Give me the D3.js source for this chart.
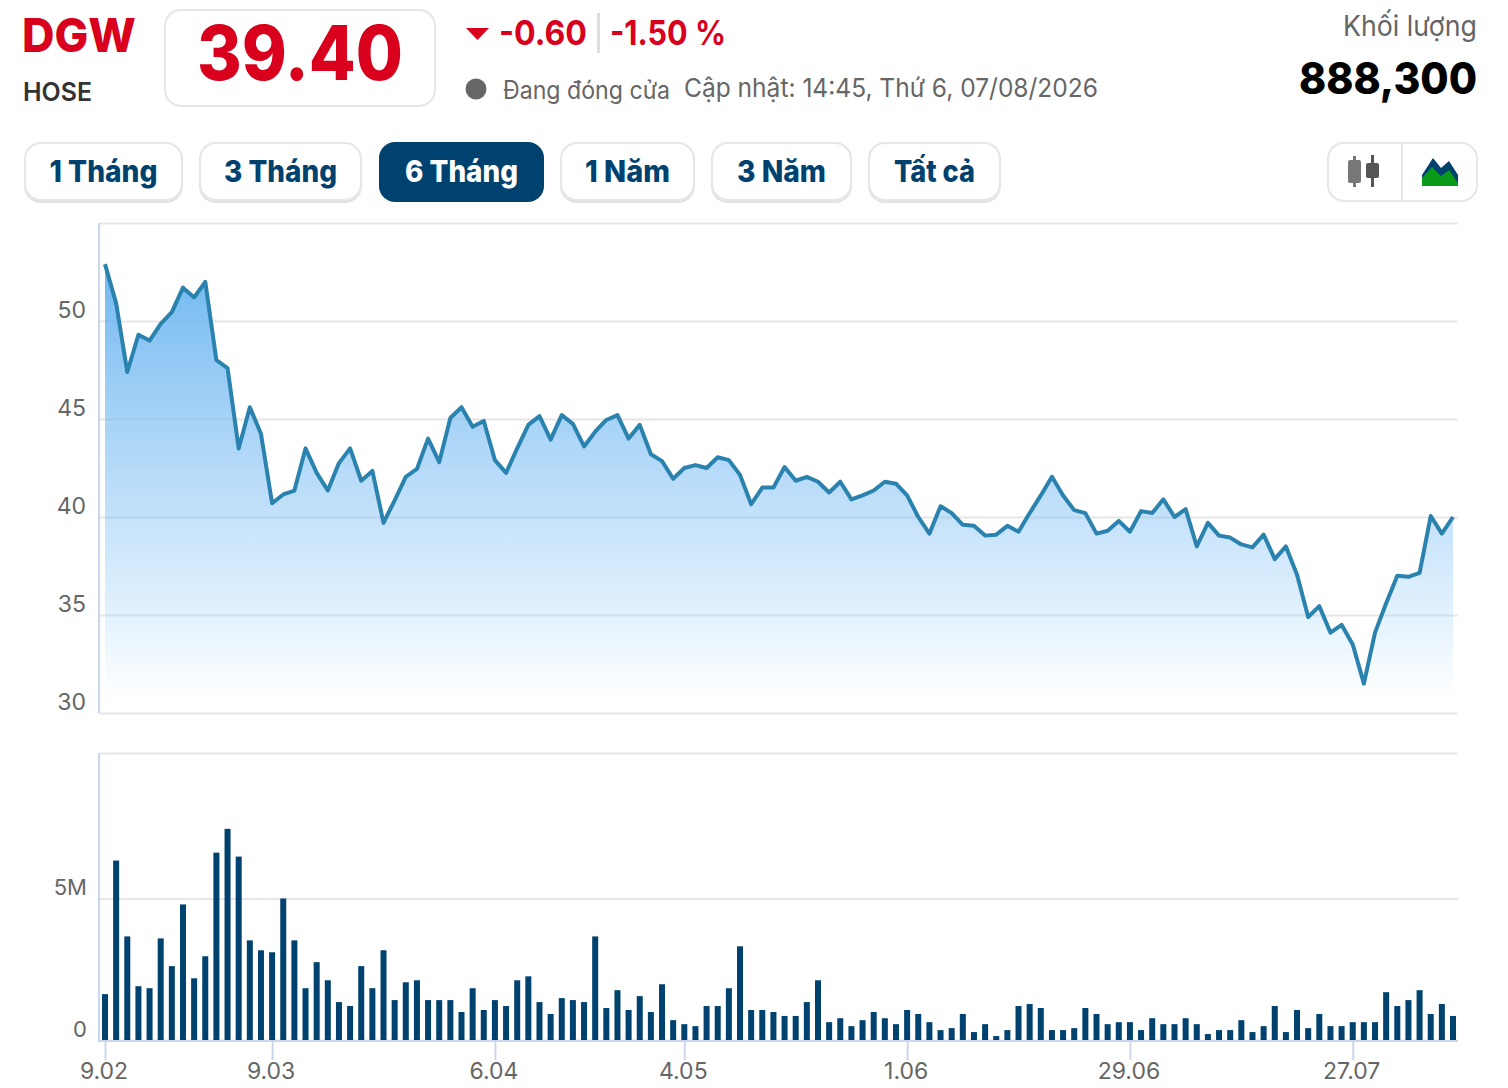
<!DOCTYPE html>
<html>
<head>
<meta charset="utf-8">
<script src="https://cdn.jsdelivr.net/npm/d3@7"></script>
<style>
  html, body { margin: 0; padding: 0; background: #fff; }
  svg { display: block; font-family: Inter, "Noto Sans", sans-serif; }
</style>
</head>
<body>
<div id="chart"></div>
<script>
// --- Data ---
const closePrices = [
  52.9, 50.9, 47.4, 49.3, 49.0, 49.85, 50.45, 51.7, 51.2, 52.0,
  48.0, 47.6, 43.5, 45.6, 44.25, 40.7, 41.15, 41.35, 43.5, 42.25,
  41.35, 42.75, 43.5, 41.85, 42.35, 39.7, 40.85, 42.05, 42.45, 44.0,
  42.8, 45.05, 45.6, 44.6, 44.9, 42.9, 42.25, 43.5, 44.7, 45.15,
  43.95, 45.2, 44.75, 43.6, 44.35, 44.95, 45.2, 44.0, 44.7, 43.2,
  42.85, 41.95, 42.5, 42.65, 42.5, 43.05, 42.9, 42.15, 40.65, 41.5,
  41.5, 42.55, 41.85, 42.05, 41.8, 41.25, 41.8, 40.9, 41.1, 41.35,
  41.8, 41.7, 41.1, 40.0, 39.15, 40.55, 40.2, 39.6, 39.55, 39.05,
  39.1, 39.55, 39.25, 40.2, 41.1, 42.05, 41.1, 40.35, 40.2, 39.15,
  39.3, 39.8, 39.25, 40.3, 40.2, 40.9, 40.0, 40.4, 38.5, 39.7,
  39.05, 38.95, 38.6, 38.45, 39.1, 37.85, 38.5, 37.05, 34.9, 35.45,
  34.1, 34.5, 33.5, 31.5, 34.1, 35.6, 37.0, 36.95, 37.15, 40.05,
  39.15, 40.0
];
// volume in millions of shares
const volumes = [
  1.62, 6.34, 3.66, 1.90, 1.83, 3.59, 2.61, 4.79, 2.18, 2.96,
  6.62, 7.46, 6.48, 3.52, 3.17, 3.10, 5.00, 3.52, 1.83, 2.75,
  2.11, 1.34, 1.20, 2.61, 1.83, 3.17, 1.41, 2.04, 2.11, 1.41,
  1.41, 1.41, 0.99, 1.83, 1.06, 1.41, 1.20, 2.11, 2.25, 1.34,
  0.92, 1.48, 1.41, 1.34, 3.66, 1.13, 1.76, 1.06, 1.55, 0.99,
  1.97, 0.70, 0.56, 0.49, 1.20, 1.20, 1.83, 3.31, 1.06, 1.06,
  0.99, 0.85, 0.85, 1.34, 2.11, 0.63, 0.77, 0.49, 0.70, 0.99,
  0.77, 0.56, 1.06, 0.92, 0.63, 0.35, 0.42, 0.92, 0.28, 0.56,
  0.14, 0.35, 1.20, 1.27, 1.13, 0.35, 0.35, 0.42, 1.13, 0.92,
  0.56, 0.63, 0.63, 0.35, 0.77, 0.56, 0.56, 0.77, 0.56, 0.21,
  0.35, 0.35, 0.70, 0.28, 0.49, 1.20, 0.28, 1.06, 0.42, 0.92,
  0.49, 0.49, 0.63, 0.63, 0.63, 1.69, 1.20, 1.41, 1.76, 0.92,
  1.27, 0.85
];
const dateIndexes = [0, 15, 35, 52, 72, 92, 112];
const dateLabels = ["9.02", "9.03", "6.04", "4.05", "1.06", "29.06", "27.07"];
const priceTicks = [30, 35, 40, 45, 50, 55];
const volumeTicks = [0, 5, 10.14];
const tabLabels = ["1 Tháng", "3 Tháng", "6 Tháng", "1 Năm", "3 Năm", "Tất cả"];
const activeTab = "6 Tháng";

const red = "#d8001c", navy = "#00426f", grey = "#666", border = "#e6e6e6", axisBlue = "#ccd6eb";

const svg = d3.select("#chart").append("svg")
  .attr("width", 1508)
  .attr("height", 1088);

// --- Scales ---
const plotLeft = 99, plotRight = 1458;
const x = d3.scaleLinear().domain([0, closePrices.length - 1]).range([105, 1453]);
const yPrice = d3.scaleLinear().domain([30, 55]).range([713, 223]);
const yVolume = d3.scaleLinear().domain([0, 10.14]).range([1040, 753]);

// --- Header ---
function label(x0, y0, str, size, weight, fill, width, anchor) {
  const t = svg.append("text")
    .attr("x", x0).attr("y", y0)
    .attr("font-size", size).attr("font-weight", weight)
    .attr("fill", fill)
    .attr("text-anchor", anchor || "start")
    .text(str);
  if (width) t.attr("textLength", width).attr("lengthAdjust", "spacingAndGlyphs");
  return t;
}

label(22, 52, "DGW", 47, 800, red, 114);
label(23, 101, "HOSE", 26, 600, "#333", 69);

svg.append("rect")
  .attr("x", 165).attr("y", 10).attr("width", 270).attr("height", 96).attr("rx", 16)
  .attr("fill", "#fff").attr("stroke", border).attr("stroke-width", 2);
label(197, 80, "39.40", 75, 800, red, 206);

svg.append("path").attr("d", "M466,28 L489,28 L477.5,40 Z").attr("fill", red);
label(499, 45, "-0.60", 34, 700, red, 88);
svg.append("rect").attr("x", 597).attr("y", 13).attr("width", 3).attr("height", 40).attr("fill", "#ddd");
label(610, 45, "-1.50 %", 34, 700, red, 116);

svg.append("circle").attr("cx", 476).attr("cy", 89).attr("r", 10.5).attr("fill", grey);
label(503, 99, "Đang đóng cửa", 25, 400, grey, 167);
label(684, 97, "Cập nhật: 14:45, Thứ 6, 07/08/2026", 26, 400, grey, 414);

label(1477, 36, "Khối lượng", 28, 400, grey, null, "end").attr("textLength", 134).attr("lengthAdjust", "spacingAndGlyphs");
label(1477, 94, "888,300", 44, 800, "#000", null, "end").attr("textLength", 178).attr("lengthAdjust", "spacingAndGlyphs");

// --- Range tabs ---
const tabEdges = [[25, 182], [200, 361], [379, 544], [561, 694], [712, 851], [869, 1000]];
const tabTextWidths = [108, 113, 113, 85, 89, 81];
tabLabels.forEach((d, i) => {
  const [a, b] = tabEdges[i];
  const on = d === activeTab;
  if (!on) {
    // heavier lower edge, like a soft shadow under each button
    svg.append("rect")
      .attr("x", a).attr("y", 146).attr("width", b - a).attr("height", 56).attr("rx", 16)
      .attr("fill", "#e2e2e2").attr("stroke", "#e2e2e2").attr("stroke-width", 2);
  }
  svg.append("rect")
    .attr("x", a).attr("y", on ? 142 : 143).attr("width", b - a).attr("height", on ? 60 : 57).attr("rx", 16)
    .attr("fill", on ? navy : "#fff")
    .attr("stroke", on ? "none" : border).attr("stroke-width", 2);
  label((a + b) / 2, 182, d, 30, 800, on ? "#fff" : navy, tabTextWidths[i], "middle");
});

// --- Chart type toggle ---
svg.append("rect")
  .attr("x", 1328).attr("y", 143).attr("width", 149).attr("height", 58).attr("rx", 16)
  .attr("fill", "#fff").attr("stroke", border).attr("stroke-width", 2);
svg.append("line").attr("x1", 1402).attr("x2", 1402).attr("y1", 143).attr("y2", 201)
  .attr("stroke", border).attr("stroke-width", 2);
svg.append("rect").attr("x", 1353).attr("y", 156).attr("width", 3).attr("height", 31).attr("fill", "#777");
svg.append("rect").attr("x", 1348).attr("y", 160).attr("width", 13).attr("height", 23).attr("rx", 2).attr("fill", "#777");
svg.append("rect").attr("x", 1371).attr("y", 155).attr("width", 3).attr("height", 32).attr("fill", "#555");
svg.append("rect").attr("x", 1366).attr("y", 163).attr("width", 13).attr("height", 15).attr("rx", 2).attr("fill", "#555");
svg.append("path").attr("d", "M1422,175 L1433,158 L1441,168 L1449,161 L1458,175 L1458,186 L1422,186 Z").attr("fill", navy);
svg.append("path").attr("d", "M1422,186 L1422,178 L1432,167 L1441,176 L1449,170 L1458,183 L1458,186 Z").attr("fill", "#0a9a1a");

// --- Axes and gridlines ---
function styleGrid(g) {
  g.select(".domain").remove();
  g.selectAll(".tick line").attr("stroke", border).attr("stroke-width", 2);
  g.selectAll(".tick text")
    .attr("font-size", 23).attr("font-family", "Inter, sans-serif")
    .attr("fill", grey).attr("dy", null);
}

const priceAxis = d3.axisLeft(yPrice)
  .tickValues(priceTicks)
  .tickSize(-(plotRight - plotLeft))
  .tickPadding(13)
  .tickFormat(d => d === 55 ? "" : d);
const priceG = svg.append("g").attr("transform", `translate(${plotLeft},0)`).call(priceAxis).call(styleGrid);
priceG.selectAll(".tick text").attr("y", -4);

const volumeAxis = d3.axisLeft(yVolume)
  .tickValues(volumeTicks)
  .tickSize(-(plotRight - plotLeft))
  .tickPadding(12)
  .tickFormat(d => d === 0 ? "0" : d === 5 ? "5M" : "");
const volumeG = svg.append("g").attr("transform", `translate(${plotLeft},0)`).call(volumeAxis).call(styleGrid);
volumeG.selectAll(".tick text").attr("y", -4).attr("font-size", 22);

// left axis lines
[[223, 713], [753, 1041]].forEach(([a, b]) => {
  svg.append("line")
    .attr("x1", plotLeft).attr("x2", plotLeft)
    .attr("y1", a).attr("y2", b)
    .attr("stroke", axisBlue).attr("stroke-width", 2);
});

// --- Price area and line ---
const grad = svg.append("defs").append("linearGradient")
  .attr("id", "areaFill")
  .attr("gradientUnits", "userSpaceOnUse")
  .attr("x1", 0).attr("x2", 0)
  .attr("y1", 262).attr("y2", 702);
grad.append("stop").attr("offset", "0%").attr("stop-color", "#67b3ef").attr("stop-opacity", 0.95);
grad.append("stop").attr("offset", "55%").attr("stop-color", "#86c2f5").attr("stop-opacity", 0.52);
grad.append("stop").attr("offset", "82%").attr("stop-color", "#95cdf9").attr("stop-opacity", 0.25);
grad.append("stop").attr("offset", "100%").attr("stop-color", "#a9d6fb").attr("stop-opacity", 0);

const area = d3.area()
  .x((d, i) => x(i))
  .y0(yPrice(30))
  .y1(d => yPrice(d));
svg.append("path").datum(closePrices).attr("d", area).attr("fill", "url(#areaFill)");

const line = d3.line()
  .x((d, i) => x(i))
  .y(d => yPrice(d));
svg.append("path").datum(closePrices).attr("d", line)
  .attr("fill", "none")
  .attr("stroke", "#2a82ae")
  .attr("stroke-width", 4)
  .attr("stroke-linejoin", "round");

// --- Volume bars ---
svg.selectAll("rect.vol")
  .data(volumes)
  .enter()
  .append("rect")
  .attr("class", "vol")
  .attr("x", (d, i) => x(i) - 3)
  .attr("y", d => yVolume(d))
  .attr("width", 6)
  .attr("height", d => yVolume(0) - yVolume(d))
  .attr("fill", navy);

// --- Date axis ---
const dateAxis = d3.axisBottom(x)
  .tickValues(dateIndexes)
  .tickSize(19)
  .tickPadding(5)
  .tickFormat((d, i) => dateLabels[i]);
const dateG = svg.append("g").attr("transform", "translate(0,1041)").call(dateAxis);
dateG.select(".domain").remove();
dateG.selectAll(".tick line").attr("stroke", axisBlue).attr("stroke-width", 2);
dateG.selectAll(".tick text")
  .attr("font-size", 23).attr("font-family", "Inter, sans-serif").attr("fill", grey)
  .attr("dy", "0.6em").attr("dx", -1.5);
svg.append("line")
  .attr("x1", plotLeft - 1).attr("x2", plotRight)
  .attr("y1", 1041).attr("y2", 1041)
  .attr("stroke", axisBlue).attr("stroke-width", 2);
</script>
</body>
</html>
